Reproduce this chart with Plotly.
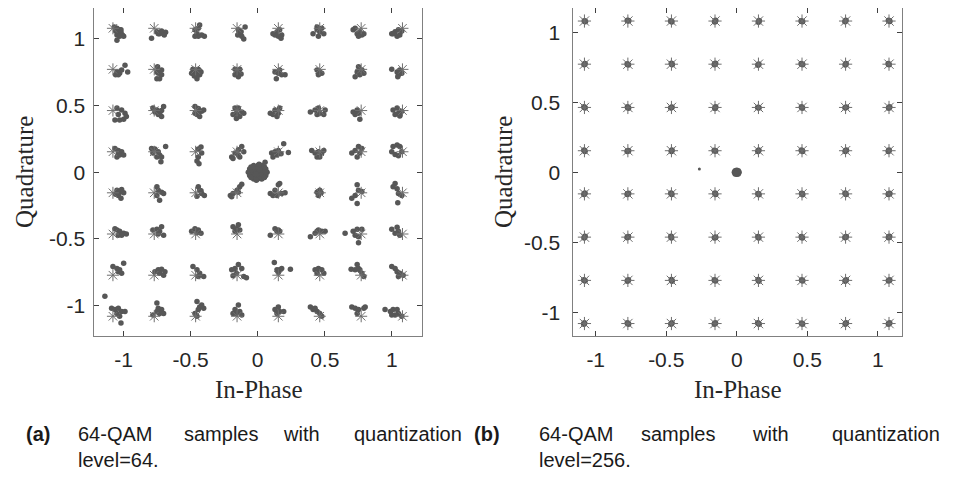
import plotly.graph_objects as go

# 64-QAM constellation levels (normalised by sqrt(42))
levels = [-1.08, -0.772, -0.463, -0.154, 0.154, 0.463, 0.772, 1.08]
tick_vals = [-1, -0.5, 0, 0.5, 1]
tick_text = ["-1", "-0.5", "0", "0.5", "1"]

# (a) quantization level 64: error offsets (hundredths) of received samples
# around each ideal point, rows top (Q=1.08) -> bottom, columns left -> right
err_a = [
    # Q = 1.08
    [(1,1),(3,0),(5,-1),(6,-3),(4,-3),(7,-5),(3,-5),(5,-6),(8,-6),(3,-9),(2,-2),(6,-1)],
    [(2,-2.5),(4,-4),(7,-4),(8.5,-3),(5.5,-2),(-2,-7.5),(3,-4),(7.5,-5)],
    [(-0.5,-1),(1,-4),(2,-6),(4.5,-5),(6.5,-6),(-0.5,-6),(3,2.5),(2,0)],
    [(1,-1),(2,-4),(3.5,-6),(0.5,-5),(5,-8),(6,1),(1.5,-2.5),(3,-2.5)],
    [(-4,-4),(-1,-2.5),(1,-1),(2.5,-5),(0,-6),(-2.5,-5),(2,-7.5)],
    [(-5,-4),(-2,-1),(0,-2.5),(1.5,0),(-1,-6),(3,-4),(-2,1)],
    [(-6,-1),(-3,-4),(-1,-2.5),(0.5,-5),(-2,-6),(2,-4),(-4.5,0)],
    [(-8,-4),(-5.5,-2.5),(-3,-1),(-2,-5),(-4,-6),(-0.5,-2),(-7,-4)],
    # Q = 0.772
    [(3,-2),(5,-3),(6.5,-0.5),(9,3),(11,-2),(4,-4),(2,-4)],
    [(2,-2),(3,-3),(5.5,-0.5),(5.5,-4),(2,-7),(4,-7),(2.5,2)],
    [(-2,0),(2,0),(-0.5,-4),(3,-4),(1,-7),(-3,-3),(4,-2),(1,-2.5),(-1,-2.5),(2.5,-3),(0,-1),(1,-5),(-1,-5),(3,-1)],
    [(-1.5,0),(2,0),(0,-3),(3,-3.5),(1,-5.5),(-1.5,-4),(1,-2)],
    [(-2.5,-2),(0,-3),(2.5,-4),(5,-4),(-1.5,-7),(1,-0.5)],
    [(-2,-0.5),(0,-2),(1.5,-3),(-1,-4)],
    [(-2,2),(0.5,-0.5),(-3,-2),(-4.5,-5.5),(-1,-4),(2,-3)],
    [(-8,0),(-4,-2),(-3,-4),(-0.5,-3),(-2,-0.5),(-3.5,-5.5)],
    # Q = 0.463
    [(3,2),(6.5,0.5),(9,-2),(4,-3),(1.5,-7),(5,-7),(8,-6.5),(10,-4.5)],
    [(-1,2),(2,0.5),(4,-2),(5.5,-4.5),(3,-3),(7,3),(5.5,0),(0.5,-1)],
    [(-0.5,3),(2,1.5),(4.5,-0.5),(1,-3),(3,-4.5),(6,0.5),(-0.5,-2),(2,-2)],
    [(-1.5,2),(1,2),(3.5,-1),(-0.5,-2),(-3,-3),(2,-4.5),(-0.5,-6),(5,-2)],
    [(-6,-2),(-2.5,0.5),(0,-2),(-1,-4.5),(1,2),(-4,-3)],
    [(-7,-1),(-3.5,0.5),(-1,2),(0,-2),(3,-3),(-2,-3),(4,0.5)],
    [(-6,-1),(-3,0.5),(-4.5,-3),(-1,-6.5),(-2,-2)],
    [(-7,0.5),(-4,2),(-3,-2),(-0.5,-0.5),(-5.5,-3),(-2,-4)],
    # Q = 0.154
    [(1.5,2.5),(4,1),(6.5,0),(5,-2.5),(3,-4),(8,-2.5),(4,-1.5)],
    [(-2,2.5),(0.5,2),(3,0),(4,-2.5),(2,-4),(5.5,-4),(8.5,4),(5,-7.5),(-1,-1)],
    [(2,2),(4,3.5),(4.5,-1),(2,-4),(1,-7),(2.5,-9)],
    [(-4,-4),(-1.5,-1),(1,1.5),(3.5,4),(5,0),(1,-2.5),(-3,-5),(2,-4)],
    [(-5,-1),(-2.5,0),(0,1),(4,6),(7.5,-0.5),(-1,-2.5),(-4,-4),(2,-1.5)],
    [(-6,1),(-3.5,-1),(-1,0),(1.5,-1),(-2,-4),(0,-4),(3,1)],
    [(-7,-1),(-4.5,1),(-2,4),(-1,-1),(-3,-4),(0.5,2.5)],
    [(-8,0),(-7,4),(-4,5),(-2,4),(-0.5,0),(-5.5,-2),(-3,-3)],
    # Q = -0.154
    [(3,2),(5,0.5),(8,0),(4,-2),(6,-4),(2,-1),(6.5,2.5)],
    [(2,4.5),(3,2),(5.5,0.5),(2,-2),(4,-5.5),(7,-0.5)],
    [(2,4.5),(3,2),(4.5,-0.5),(6.5,-2),(1,-2.5),(4,1.5)],
    [(-5,-2),(-3,-0.5),(0,2),(2,4.5),(3.5,6.5),(1,0.5),(-4,-3)],
    [(-6,-0.5),(-2.5,2),(0,6),(1,7),(-1,-2),(2.5,-0.5),(5,0),(-4,-2)],
    [(-2,0.5),(0,2),(-1,-2),(1,0)],
    [(-7,-4),(-4.5,-2),(-2,2),(-3,6),(0.5,1),(-3,-8)],
    [(-5.5,7),(-4,3),(-3,-0.5),(-0.5,-2),(-3.5,-7.5),(-7,4.5)],
    # Q = -0.463
    [(3,3),(5,2),(8,0.5),(10,0),(4,-1),(1.5,4),(6.5,-1)],
    [(-1,3),(2,3.5),(4,2),(5.5,5.5),(7,-1),(3,0)],
    [(-3,2),(-0.5,4),(2,3),(4,0.5),(1,1)],
    [(-3,5.5),(-0.5,4),(2,3),(1,7),(-1.5,2)],
    [(-6,-1),(-2.5,4),(0,3),(1,2),(-1,2)],
    [(-7,-2),(-3.5,0.5),(-1,3),(1.5,2),(4,2),(-2,2)],
    [(-12,0.5),(-6,2),(-3,3.5),(0.5,3.5),(-2,-2),(-2,-6.5),(-4.5,-1)],
    [(-8,3.5),(-4,5),(-3,2),(-2,-1),(-5.5,0.5)],
    # Q = -0.772
    [(0,6.5),(3,5),(4,2.5),(6.5,1.5),(8,9),(5,4)],
    [(0.5,2.5),(3,4),(5.5,4.5),(8,2.5),(4,1.5),(7,0)],
    [(-2,6.5),(1,4),(3,1.5),(6,-1),(2,-1)],
    [(-4,4),(-1.5,5),(1,8),(3.5,5),(5,-1),(7,-2),(-0.5,1.5),(-3,-0.5)],
    [(-3,9.5),(-1,4),(1,4),(2.5,5),(9,4.5),(0,2)],
    [(-3.5,4),(-1,5),(1.5,4),(3,1.5),(-2,1.5)],
    [(-7.5,4.5),(-4.5,4),(-3,8),(-1,4),(0.5,1.5),(2,-1),(-2,5)],
    [(-8,6.5),(-5.5,5),(-4,2.5),(-2,1.5),(0.5,0),(-3,-1)],
    # Q = -1.08
    [(-1,6),(1.5,5),(4,6),(6.5,3.5),(9,3.5),(3,2),(5,0),(6,-5),(-6,15)],
    [(2,10),(3,6),(5.5,5),(4,2),(7,2),(2,3.5),(-1,1)],
    [(1,11),(3,7),(6,6),(2,5),(-0.5,2),(1,0),(4.5,8.5)],
    [(1,8.5),(-1.5,5),(-0.5,2),(2,3.5),(3.5,1),(-3,2)],
    [(-2.5,5),(0,7),(1,3.5),(4,3.5),(-1,2)],
    [(-7,7),(-5,5),(-2,3.5),(0,2),(1.5,0),(-3.5,6)],
    [(-7,7),(-4.5,6),(-2,5),(2,6),(3,7),(-3,2)],
    [(-13,5),(-9,3.5),(-7,5),(-4,5),(-3,2),(-0.5,0),(-8,1),(-5.5,1)],
]

# (a) samples quantized to (near) zero, in hundredths
zero_a = [(-3,5),(0,5),(3,5),(-6,2.5),(-3,2.5),(0,2.5),(3,2.5),(6,2.5),
          (-7,0),(-4.5,0),(-1.5,0),(1.5,0),(4.5,0),(7,0),
          (-6,-2.5),(-3,-2.5),(0,-2.5),(3,-2.5),(6,-2.5),(-3,-5),(0,-5),(3,-5),
          (5.5,7.5),(1,6),(-1,-6),(-5,4),(5,-4),(-5,-4),(5,4),(1.5,1.5),(-1.5,-1.5)]

# (b) quantization level 256: error offsets (thousandths), same ordering
err_b = [
    [(0,0),(6,-4)],[(-3,3),(5,2)],[(2,-5),(-4,1)],[(4,4),(-2,-5)],[(0,-6),(5,2)],[(-5,0),(3,-3)],[(2,3),(-4,-4)],[(5,-2),(-3,4)],
    [(-2,-3),(4,3)],[(3,-4),(-4,2)],[(0,4),(5,-3)],[(-4,-2),(3,5)],[(2,0),(-3,-5)],[(-5,3),(4,-2)],[(3,3),(-2,-4)],[(0,-3),(-5,3)],
    [(4,-2),(-3,3)],[(-2,4),(4,-4)],[(3,2),(-4,-3)],[(0,-5),(4,3)],[(-4,0),(3,-3)],[(2,-4),(-3,4)],[(-3,-2),(5,2)],[(4,3),(-2,-4)],
    [(-3,3),(3,-3)],[(4,0),(-4,-4)],[(0,-4),(3,4)],[(-5,2),(3,-2)],[(2,4),(-3,-3)],[(3,-3),(-4,3)],[(-2,-4),(5,3)],[(0,3),(-4,-3)],
    [(3,4),(-3,-2)],[(-4,-3),(4,2)],[(2,-2),(-3,5)],[(0,5),(4,-3)],[(-3,0),(3,-5)],[(4,-4),(-2,3)],[(-3,4),(3,-2)],[(5,3),(-4,-2)],
    [(-2,-4),(4,4)],[(3,2),(-5,-3)],[(0,-4),(-3,4)],[(4,0),(-3,-4)],[(-3,3),(2,-4)],[(2,-5),(-4,3)],[(-4,-2),(4,3)],[(3,4),(-3,-3)],
    [(4,-3),(-4,3)],[(-3,-4),(3,3)],[(0,4),(4,-4)],[(-4,2),(3,-3)],[(3,-4),(-2,4)],[(-2,3),(4,-2)],[(4,3),(-3,-4)],[(-3,-3),(4,3)],
    [(0,4),(-4,-3)],[(4,-3),(-3,3)],[(-3,-4),(3,4)],[(2,3),(-4,-3)],[(-4,4),(4,-3)],[(3,-4),(-3,2)],[(-2,-3),(4,4)],[(4,3),(-3,-4)],
]
zero_b = [(0,0),(-15,0),(15,0),(0,12),(0,-12),(-10,10),(10,-10),(10,10),(-10,-10)]
stray_b = [(-0.265, 0.024)]

# ideal constellation points
ideal_x = [xv for yv in reversed(levels) for xv in levels]
ideal_y = [yv for yv in reversed(levels) for xv in levels]

def build(errs, scale, zero):
    xs, ys = [], []
    for k, pts in enumerate(errs):
        for dx, dy in pts:
            xs.append(ideal_x[k] + dx * scale)
            ys.append(ideal_y[k] + dy * scale)
    for dx, dy in zero:
        xs.append(dx * scale)
        ys.append(dy * scale)
    return xs, ys

ax_x, ax_y = build(err_a, 0.01, zero_a)
bx_x, bx_y = build(err_b, 0.001, zero_b)

DOT = "#575757"
STAR = "#6e6e6e"

fig = go.Figure()
fig.add_trace(go.Scatter(x=ax_x, y=ax_y, mode="markers", xaxis="x", yaxis="y",
                         marker=dict(symbol="circle", size=5.5, color=DOT, line=dict(width=0)),
                         showlegend=False))
fig.add_trace(go.Scatter(x=ideal_x, y=ideal_y, mode="markers", xaxis="x", yaxis="y",
                         marker=dict(symbol="asterisk-open", size=10, color=STAR,
                                     line=dict(width=1, color=STAR)),
                         showlegend=False))
fig.add_trace(go.Scatter(x=bx_x, y=bx_y, mode="markers", xaxis="x2", yaxis="y2",
                         marker=dict(symbol="circle", size=6, color=DOT, line=dict(width=0)),
                         showlegend=False))
fig.add_trace(go.Scatter(x=[p[0] for p in stray_b], y=[p[1] for p in stray_b], mode="markers",
                         xaxis="x2", yaxis="y2",
                         marker=dict(symbol="circle", size=3, color=DOT, line=dict(width=0)),
                         showlegend=False))
fig.add_trace(go.Scatter(x=ideal_x, y=ideal_y, mode="markers", xaxis="x2", yaxis="y2",
                         marker=dict(symbol="asterisk-open", size=11, color=STAR,
                                     line=dict(width=1, color=STAR)),
                         showlegend=False))

# The page body has an 8 px default margin, so the figure is drawn 8 px in
# from the window's top-left corner; size it to fit and offset positions.
OFF = 8
W, H = 968 - OFF, 486 - OFF
def px(x): return (x - OFF) / W
def py(y): return 1 - (y - OFF) / H

tickfont = dict(family="Liberation Sans, Arial, sans-serif", size=21, color="#262626")
axis_common = dict(tickvals=tick_vals, ticktext=tick_text, ticks="inside", ticklen=5,
                   tickcolor="#404040", showline=True, linecolor="#808080", linewidth=1,
                   mirror="ticks", showgrid=False, zeroline=False, tickfont=tickfont)

fig.update_layout(
    width=W, height=H, margin=dict(l=0, r=0, t=0, b=0),
    plot_bgcolor="white", paper_bgcolor="white",
    xaxis=dict(domain=[px(94.3), px(422.3)], range=[-1.219, 1.228], anchor="y",
               ticklabelstandoff=5, **axis_common),
    yaxis=dict(domain=[py(336), py(8.3)], range=[-1.228, 1.23], anchor="x",
               ticklabelstandoff=4, **axis_common),
    xaxis2=dict(domain=[px(573.3), px(901.7)], range=[-1.159, 1.17], anchor="y2",
                ticklabelstandoff=5, **axis_common),
    yaxis2=dict(domain=[py(336), py(8.3)], range=[-1.169, 1.171], anchor="x2",
                ticklabelstandoff=8, **axis_common),
)

serif = dict(family="Liberation Serif, Times New Roman, serif", size=25, color="#262626")
ann = []
for cx in (258, 737):
    ann.append(dict(text="In-Phase", x=px(cx), y=py(389), xref="paper", yref="paper",
                    xanchor="center", yanchor="middle", showarrow=False, font=serif))
for cx in (24, 503):
    ann.append(dict(text="Quadrature", x=px(cx), y=py(172), xref="paper", yref="paper",
                    xanchor="center", yanchor="middle", showarrow=False, font=serif, textangle=-90))

capfont = dict(family="Liberation Sans, Arial, sans-serif", size=20, color="#1a1a1a")
words = [("<b>(a)</b>", 24), ("64-QAM", 76), ("samples", 182), ("with", 281), ("quantization", 352),
         ("<b>(b)</b>", 472), ("64-QAM", 537), ("samples", 639), ("with", 750), ("quantization", 830)]
for t, x0 in words:
    ann.append(dict(text=t, x=px(x0), y=py(434), xref="paper", yref="paper",
                    xanchor="left", yanchor="middle", showarrow=False, font=capfont))
for t, x0 in (("level=64.", 76), ("level=256.", 537)):
    ann.append(dict(text=t, x=px(x0), y=py(460), xref="paper", yref="paper",
                    xanchor="left", yanchor="middle", showarrow=False, font=capfont))
fig.update_layout(annotations=ann)

fig.write_html("out.html")
